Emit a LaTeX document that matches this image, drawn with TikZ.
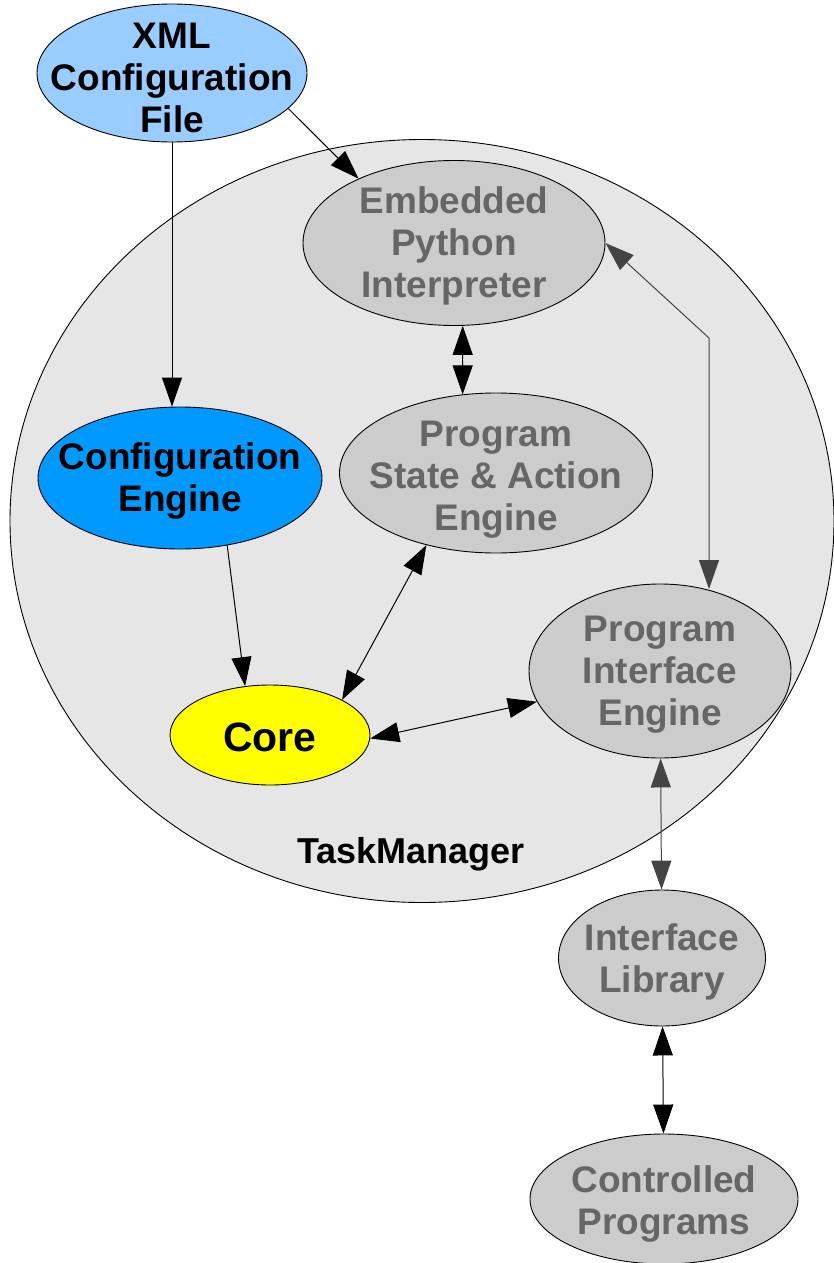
\documentclass[tikz,border=0pt]{standalone}
\usepackage{fontspec}
\setmainfont{Liberation Sans}
\usetikzlibrary{shapes.geometric,arrows.meta}
\definecolor{xmlblue}{HTML}{99CCFF}
\definecolor{cfgblue}{HTML}{0099FF}
\definecolor{nodegray}{HTML}{CCCCCC}
\definecolor{tmgray}{HTML}{E6E6E6}
\definecolor{txtgray}{HTML}{666666}
\definecolor{linegray}{HTML}{444444}
\definecolor{coreyellow}{HTML}{FFFF00}
\tikzset{
  ell/.style={ellipse, draw=black, line width=0.9pt, inner sep=0pt},
  grayell/.style={ell, fill=nodegray},
  txt/.style={align=center, inner sep=0pt, yshift=-3.5pt, font=\fontsize{37}{42}\selectfont\bfseries},
  graytxt/.style={txt, text=txtgray},
  conn/.style={line width=1pt, draw=black},
  tipend/.style={-{Triangle[length=29pt,width=20pt]}},
  tipboth/.style={{Triangle[length=29pt,width=20pt]}-{Triangle[length=29pt,width=20pt]}},
}
\begin{document}
\begin{tikzpicture}[x=1pt,y=-1pt]
\useasboundingbox (0,0) rectangle (834,1263);
\node[ellipse, draw=black, line width=0.9pt, fill=tmgray, minimum width=824pt, minimum height=763pt, inner sep=0pt] (tm) at (422,521) {};
\node[txt, font=\fontsize{36}{40}\selectfont\bfseries] (tml) at (411,851) {TaskManager};
% shapes
\node[ell, fill=xmlblue, minimum width=270pt, minimum height=138pt] (xml) at (172,73) {};
\node[grayell, minimum width=302pt, minimum height=165pt] (emb) at (454,243) {};
\node[ell, fill=cfgblue, minimum width=284pt, minimum height=142pt] (cfg) at (180,478) {};
\node[grayell, minimum width=313pt, minimum height=160pt] (psa) at (496,473) {};
\node[grayell, minimum width=262pt, minimum height=174pt] (pie) at (660,671) {};
\node[ell, fill=coreyellow, minimum width=200pt, minimum height=100pt] (core) at (270,735) {};
\node[grayell, minimum width=207pt, minimum height=136pt] (lib) at (662,958) {};
\node[grayell, minimum width=268pt, minimum height=130pt] (ctrl) at (664,1199) {};
% texts
\node[txt] (xmlt) at (172,74) {XML\\Configuration\\File};
\node[graytxt] (embt) at (454,242) {Embedded\\Python\\Interpreter};
\node[txt] (cfgt) at (180,478) {Configuration\\Engine};
\node[graytxt] (psat) at (496,476) {Program\\State \& Action\\Engine};
\node[graytxt] (piet) at (660,671) {Program\\Interface\\Engine};
\node[txt, yshift=2.5pt, font=\fontsize{41}{46}\selectfont\bfseries] (coret) at (270,736) {Core};
\node[graytxt] (libt) at (662,958) {Interface\\Library};
\node[graytxt] (ctrlt) at (664,1200) {Controlled\\Programs};
% connectors
\coordinate (bend) at (709,338);
\coordinate (pietop) at (709,589);
\draw[conn, tipend] (xml.south) -- (xml.south |- cfg.north);
\draw[conn, tipend] (xml.-17) -- (emb.146);
\draw[conn, tipend] (cfg.-55) -- (core.117);
\draw[conn, tipboth] (emb.-84) -- (psa.113);
\draw[conn, tipboth] (core.26) -- (psa.-134);
\draw[conn, tipboth] (core.-2) -- (pie.-166);
\draw[conn, draw=linegray, tipboth] (emb.east) -- (bend) -- (pietop);
\draw[conn, draw=linegray, tipboth] (pie) -- (lib);
\draw[conn, tipboth] (lib) -- (ctrl);
\end{tikzpicture}
\end{document}
